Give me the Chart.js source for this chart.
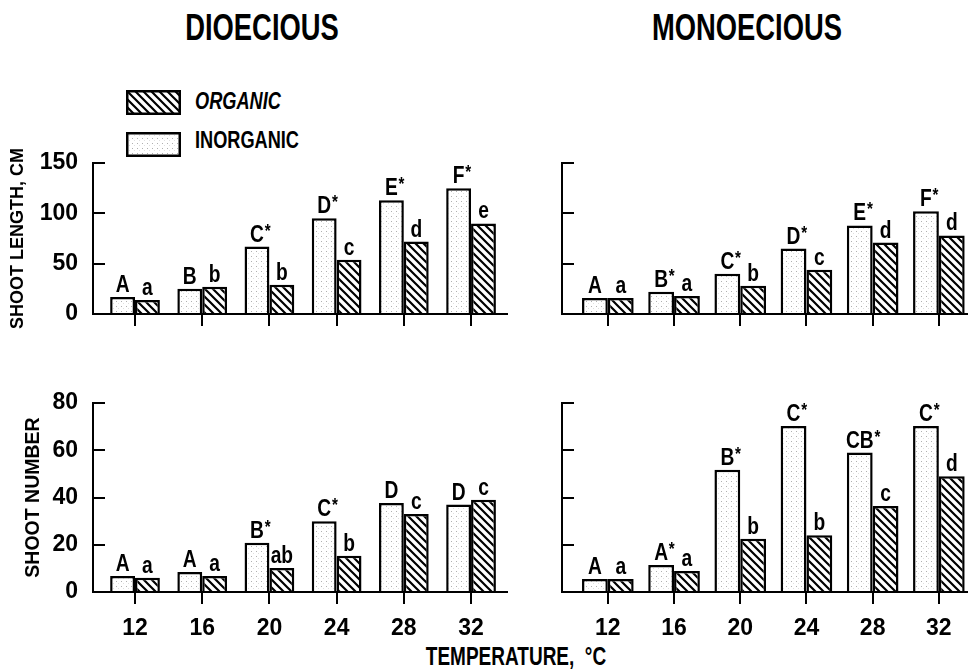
<!DOCTYPE html>
<html>
<head>
<meta charset="utf-8">
<script src="https://cdn.jsdelivr.net/npm/chart.js@4.4.1/dist/chart.umd.min.js"></script>
<style>
body { margin: 0; background: #fff; width: 968px; height: 672px; overflow: hidden; position: relative;
       font-family: 'Liberation Sans', Arial, sans-serif; font-weight: bold; color: #000; }
canvas { position: absolute; }
.txt { position: absolute; white-space: nowrap; line-height: 1; }
.mid { transform: translateX(-50%) scaleX(0.76); }
.lft { transform: scaleX(0.79); transform-origin: 0 0; }
</style>
</head>
<body>
<div class="txt mid" style="left:262px; top:10px; font-size:36px;">DIOECIOUS</div>
<div class="txt mid" style="left:747px; top:10px; font-size:36px;">MONOECIOUS</div>

<canvas id="legOrg" width="55" height="25" style="left:126px; top:90px;"></canvas>
<div class="txt lft" style="left:195px; top:90px; font-size:23px; font-style:italic;">ORGANIC</div>
<canvas id="legInorg" width="55" height="25" style="left:126px; top:132px;"></canvas>
<div class="txt lft" style="left:195px; top:129px; font-size:23px;">INORGANIC</div>

<canvas id="c1" width="508" height="214" style="left:0; top:140px;"></canvas>
<canvas id="c2" width="428" height="214" style="left:540px; top:140px;"></canvas>
<canvas id="c3" width="508" height="262" style="left:0; top:380px;"></canvas>
<canvas id="c4" width="428" height="262" style="left:540px; top:380px;"></canvas>

<div class="txt mid" style="left:516px; top:644px; font-size:25px;">TEMPERATURE, &nbsp;°C</div>

<script>
const FONT = "'Liberation Sans', Arial, sans-serif";

const temps = [12, 16, 20, 24, 28, 32];

// shoot length, cm
const dioLengthInorg = [17, 25, 67, 95, 113, 125];
const dioLengthOrg = [14, 27, 29, 54, 72, 90];
const monoLengthInorg = [16, 22, 40, 65, 88, 102];
const monoLengthOrg = [16, 18, 28, 44, 71, 78];

// shoot number
const dioNumberInorg = [6.8, 8.5, 20.8, 30, 37.7, 37];
const dioNumberOrg = [6, 6.8, 10.2, 15.3, 33, 39];
const monoNumberInorg = [5.5, 11.4, 51.7, 70.3, 59, 70.3];
const monoNumberOrg = [5.5, 8.9, 22.5, 24, 36.4, 49];

// significance letters above the bars
const dioLengthInorgLetters = ['A', 'B', 'C*', 'D*', 'E*', 'F*'];
const dioLengthOrgLetters = ['a', 'b', 'b', 'c', 'd', 'e'];
const monoLengthInorgLetters = ['A', 'B*', 'C*', 'D*', 'E*', 'F*'];
const monoLengthOrgLetters = ['a', 'a', 'b', 'c', 'd', 'd'];
const dioNumberInorgLetters = ['A', 'A', 'B*', 'C*', 'D', 'D'];
const dioNumberOrgLetters = ['a', 'a', 'ab', 'b', 'c', 'c'];
const monoNumberInorgLetters = ['A', 'A*', 'B*', 'C*', 'CB*', 'C*'];
const monoNumberOrgLetters = ['a', 'a', 'b', 'b', 'c', 'd'];

function hatchPattern() {
    const c = document.createElement('canvas');
    c.width = c.height = 8;
    const g = c.getContext('2d');
    g.fillStyle = '#fff';
    g.fillRect(0, 0, 8, 8);
    g.strokeStyle = '#000';
    g.lineWidth = 2.2;
    g.beginPath();
    g.moveTo(-2, -2); g.lineTo(10, 10);
    g.moveTo(-2, 6); g.lineTo(2, 10);
    g.moveTo(6, -2); g.lineTo(10, 2);
    g.stroke();
    return g.createPattern(c, 'repeat');
}

function stipplePattern() {
    const c = document.createElement('canvas');
    c.width = c.height = 5;
    const g = c.getContext('2d');
    g.fillStyle = '#fff';
    g.fillRect(0, 0, 5, 5);
    g.fillStyle = '#b0b0b0';
    g.fillRect(1, 1, 1, 1);
    g.fillStyle = '#e0e0e0';
    g.fillRect(3, 3, 1, 1);
    return g.createPattern(c, 'repeat');
}

const hatch = hatchPattern();
const stipple = stipplePattern();

function legendBox(id, fill) {
    const g = document.getElementById(id).getContext('2d');
    g.fillStyle = fill;
    g.fillRect(0, 0, 55, 25);
    g.strokeStyle = '#000';
    g.lineWidth = 2.5;
    g.strokeRect(1.25, 1.25, 52.5, 22.5);
}
legendBox('legOrg', hatch);
legendBox('legInorg', stipple);

// letters over each bar, drawn narrow like the condensed face of the original
const barLetters = {
    id: 'barLetters',
    afterDatasetsDraw(chart) {
        const ctx = chart.ctx;
        chart.data.datasets.forEach((ds, i) => {
            chart.getDatasetMeta(i).data.forEach((bar, j) => {
                const txt = ds.letters[j];
                const star = txt.endsWith('*');
                const base = star ? txt.slice(0, -1) : txt;
                ctx.save();
                ctx.translate(bar.x, bar.y - 5);
                ctx.scale(0.8, 1);
                ctx.fillStyle = '#000';
                ctx.font = 'bold 24px ' + FONT;
                ctx.textAlign = 'center';
                ctx.textBaseline = 'alphabetic';
                ctx.fillText(base, 0, 0);
                if (star) {
                    const w = ctx.measureText(base).width;
                    ctx.font = 'bold 19px ' + FONT;
                    ctx.textAlign = 'left';
                    ctx.fillText('*', w / 2 + 1, -5);
                }
                ctx.restore();
            });
        });
    }
};

Chart.defaults.font.family = FONT;
Chart.defaults.font.weight = 'bold';
Chart.defaults.color = '#000';

function makePanel(id, inorg, org, inLetters, orgLetters, o) {
    const ctx = document.getElementById(id).getContext('2d');
    return new Chart(ctx, {
        type: 'bar',
        data: {
            datasets: [
                {
                    label: 'INORGANIC',
                    data: temps.map((t, i) => ({ x: t, y: inorg[i] })),
                    backgroundColor: stipple,
                    borderColor: '#000',
                    borderWidth: 2.5,
                    categoryPercentage: o.catPct,
                    barPercentage: 1,
                    letters: inLetters
                },
                {
                    label: 'ORGANIC',
                    data: temps.map((t, i) => ({ x: t, y: org[i] })),
                    backgroundColor: hatch,
                    borderColor: '#000',
                    borderWidth: 2.5,
                    categoryPercentage: o.catPct,
                    barPercentage: 1,
                    letters: orgLetters
                }
            ]
        },
        options: {
            responsive: false,
            animation: false,
            layout: { padding: { top: 23, right: 1, left: 0, bottom: 0 } },
            plugins: {
                legend: { display: false },
                tooltip: { enabled: false }
            },
            scales: {
                x: {
                    type: 'linear',
                    min: o.xMin,
                    max: o.xMax,
                    offset: false,
                    afterBuildTicks: s => { s.ticks = temps.map(v => ({ value: v })); },
                    afterFit: s => { s.height = o.xHeight; s.paddingLeft = 0; s.paddingRight = 0; },
                    ticks: { display: o.showX, padding: 11, autoSkip: false, maxRotation: 0, font: { size: 23, weight: 'bold' } },
                    grid: { offset: false, drawOnChartArea: false, drawTicks: true, tickLength: 12, color: '#000', lineWidth: 2 },
                    border: { display: true, color: '#000', width: 2 }
                },
                y: {
                    min: 0,
                    max: o.yMax,
                    afterFit: s => { s.width = o.yWidth; s.paddingTop = 0; s.paddingBottom = 0; },
                    ticks: { stepSize: o.yStep, display: o.showY, padding: 27, font: { size: 23, weight: 'bold' } },
                    grid: { drawOnChartArea: false, drawTicks: true, tickLength: -12, color: '#000', lineWidth: 2 },
                    border: { display: true, color: '#000', width: 2 },
                    title: {
                        display: !!o.title,
                        text: o.title,
                        font: { size: o.titleSize, weight: 'bold' },
                        padding: { top: o.titlePad, bottom: 0 }
                    }
                }
            }
        },
        plugins: [barLetters]
    });
}

makePanel('c1', dioLengthInorg, dioLengthOrg, dioLengthInorgLetters, dioLengthOrgLetters,
    { yMax: 150, yStep: 50, showY: true, title: 'SHOOT LENGTH, CM', titleSize: 18, titlePad: 7, showX: false,
      xMin: 9.5, xMax: 34.14, catPct: 0.74, yWidth: 93, xHeight: 40 });
makePanel('c2', monoLengthInorg, monoLengthOrg, monoLengthInorgLetters, monoLengthOrgLetters,
    { yMax: 150, yStep: 50, showY: false, title: '', titleSize: 18, titlePad: 0, showX: false,
      xMin: 9.23, xMax: 33.7, catPct: 0.78, yWidth: 22, xHeight: 40 });
makePanel('c3', dioNumberInorg, dioNumberOrg, dioNumberInorgLetters, dioNumberOrgLetters,
    { yMax: 80, yStep: 20, showY: true, title: 'SHOOT NUMBER', titleSize: 19.5, titlePad: 22, showX: true,
      xMin: 9.5, xMax: 34.14, catPct: 0.74, yWidth: 93, xHeight: 50 });
makePanel('c4', monoNumberInorg, monoNumberOrg, monoNumberInorgLetters, monoNumberOrgLetters,
    { yMax: 80, yStep: 20, showY: false, title: '', titleSize: 18, titlePad: 0, showX: true,
      xMin: 9.23, xMax: 33.7, catPct: 0.78, yWidth: 22, xHeight: 50 });
</script>
</body>
</html>
